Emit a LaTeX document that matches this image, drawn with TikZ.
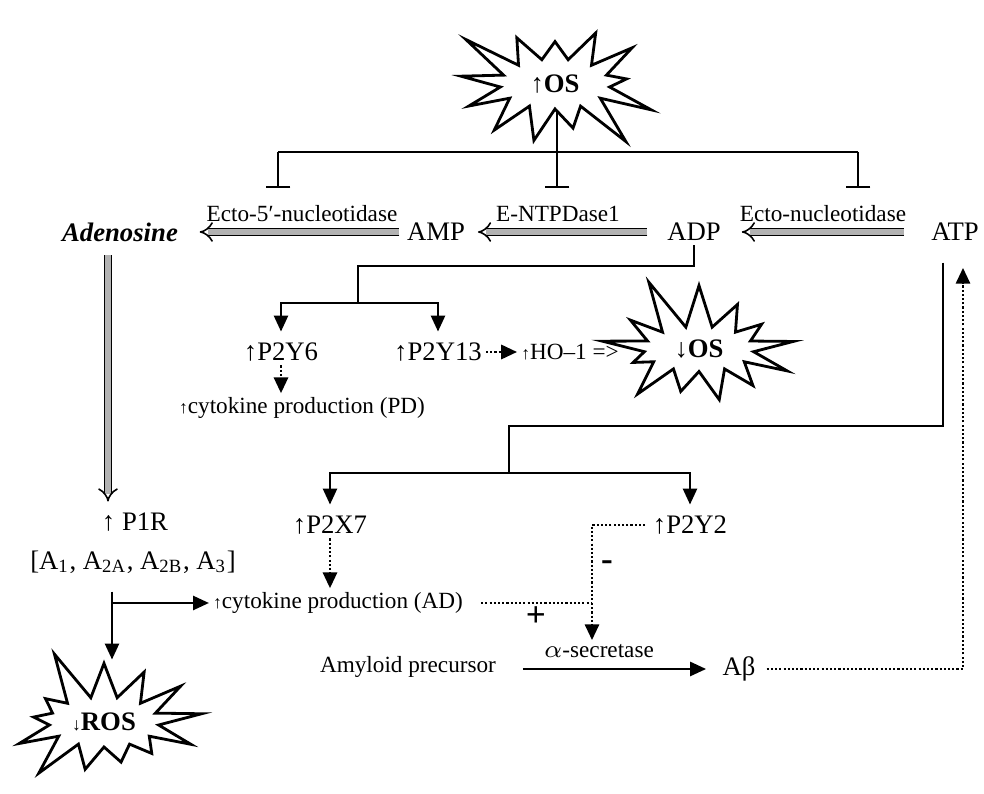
\documentclass[tikz,border=0pt]{standalone}
\usepackage{fontspec}
\setmainfont{Liberation Serif}
\usetikzlibrary{arrows.meta,shapes.symbols,backgrounds}
\newcommand{\bigtxt}{\fontsize{7.6}{9}\selectfont}
\newcommand{\smalltxt}{\fontsize{6.6}{8}\selectfont}
\newcommand{\tinyup}{{\fontsize{5}{6}\selectfont ↑}}
\newcommand{\tinydown}{{\fontsize{5}{6}\selectfont ↓}}

\begin{document}
\begin{tikzpicture}[
  lbl/.style={font=\bigtxt, inner sep=1pt},
  enz/.style={font=\smalltxt, inner sep=1pt},
  burst/.style={starburst, draw, fill=white, line width=0.8pt, starburst points=13,
    starburst point height=0.55cm, inner sep=1pt, font=\bfseries\bigtxt},
  conv/.style={double=gray!60, double distance=1.5pt, line width=0.45pt, -{Implies}},
  link/.style={line width=0.6pt},
  act/.style={link, -{Triangle[length=4.5pt,width=4pt]}},
  dotline/.style={line width=0.8pt, dash pattern=on 0.6pt off 0.6pt},
  dotact/.style={dotline, -{Triangle[length=4.5pt,width=4pt]}},
  inhib/.style={link, -{Bar[width=7pt]}}
]
\useasboundingbox (0,0) rectangle (9.84,7.94);

\node[burst, random starburst=3, minimum width=2.2cm, minimum height=1.6cm] (os) at (5.55,7.10) {↑OS};

\node[lbl, font=\bfseries\itshape\bigtxt] (aden) at (1.20,5.62) {Adenosine};
\node[lbl] (amp) at (4.36,5.62) {AMP};
\node[lbl] (adp) at (6.94,5.62) {ADP};
\node[lbl] (atp) at (9.55,5.62) {ATP};
\node[enz] (ecto5) at (3.02,5.80) {Ecto-5′-nucleotidase};
\node[enz] (entpd) at (5.58,5.80) {E-NTPDase1};
\node[enz] (ecto) at (8.23,5.80) {Ecto-nucleotidase};

\coordinate (barL) at (2.78,6.42);
\coordinate (barR) at (8.58,6.42);
\coordinate (teeL) at (2.78,6.06);
\coordinate (teeM) at (5.57,6.06);
\coordinate (teeR) at (8.58,6.06);
\begin{scope}[on background layer]
\draw[link] (barL) -- (barR);
\draw[inhib] (os.center -| teeM) -- (teeM);
\end{scope}
\draw[inhib] (barL) -- (teeL);
\draw[inhib] (barR) -- (teeR);

\draw[conv, shorten <=1pt, shorten >=5pt] (amp.west) -- (aden.east);
\draw[conv, shorten <=4.5pt, shorten >=2.5pt] (adp.west) -- (amp.east);
\draw[conv, shorten <=6.5pt, shorten >=4.8pt] (atp.west) -- (adp.east);

\node[lbl] (p2y6) at (2.81,4.42) {↑P2Y6};
\node[lbl] (p2y13) at (4.38,4.42) {↑P2Y13};
\node[enz] (ho) at (5.70,4.42) {\tinyup HO–1 =>};
\node[burst, random starburst=11, minimum width=2.2cm, minimum height=1.55cm] (os2) at (6.99,4.45) {↓OS};
\node[enz] (cytpd) at (3.02,3.86) {\tinyup cytokine production (PD)};

\coordinate (adpknee) at (3.58,5.28);
\coordinate (adpfork) at (3.58,4.91);
\draw[link] (adp.south) |- (adpknee) -- (adpfork);
\draw[act, shorten >=2pt] (adpfork) -| (p2y6.north);
\draw[act, shorten >=2pt] (adpfork) -| (p2y13.north);
\draw[dotact] (p2y6.south) -- (p2y6.south |- cytpd.north);
\draw[dotact] (p2y13.east) -- (ho.west);

\node[lbl] (p1r) at (1.35,2.72) {↑ P1R};
\node[lbl] (p1rsub) at (1.33,2.32) {[A\textsubscript{1}, A\textsubscript{2A}, A\textsubscript{2B}, A\textsubscript{3}]};
\node[burst, random starburst=5, minimum width=2.2cm, minimum height=1.6cm, font=\bfseries\bigtxt] (ros) at (1.04,0.72) {\tinydown ROS};

\draw[conv, shorten <=2.8pt, shorten >=2pt] ([xshift=-0.12cm]aden.south) -- ([xshift=-0.12cm]aden.south |- p1r.north);

\node[lbl] (p2x7) at (3.30,2.69) {↑P2X7};
\node[lbl] (p2y2) at (6.90,2.69) {↑P2Y2};
\node[enz] (cytad) at (3.38,1.91) {\tinyup cytokine production (AD)};

\coordinate (atpknee) at (5.09,3.68);
\coordinate (atpfork) at (5.09,3.21);
\draw[link, shorten <=5pt] ([xshift=-0.12cm]atp.south) |- (atpknee) -- (atpfork);
\draw[act, shorten >=2pt] (atpfork) -| (p2x7.north);
\draw[act, shorten >=2pt] (atpfork) -| (p2y2.north);
\draw[dotact] (p2x7.south) -- (p2x7.south |- cytad.north);

\coordinate (p1rfork) at (1.12,1.91);
\draw[act, shorten <=4pt] (p1rsub.south -| p1rfork) -- (ros.north -| p1rfork);
\draw[act] (p1rfork) -- (cytad.west);

\node[enz] (alpha) at (5.99,1.43) {$\alpha$-secretase};
\node[enz] (app) at (4.08,1.27) {Amyloid precursor};
\node[lbl] (ab) at (7.39,1.25) {Aβ};
\node[font=\bfseries\fontsize{10}{10}\selectfont] (minus) at (6.07,2.28) {-};
\node[font=\bfseries\fontsize{10}{10}\selectfont] (plus) at (5.36,1.77) {+};

\coordinate (secknee) at (5.92,2.69);
\coordinate (secjoin) at (5.92,1.91);
\draw[dotline, shorten <=1pt] (p2y2.west) -- (secknee) -- (secjoin);
\draw[dotline, shorten <=4pt] (cytad.east) -- (secjoin);
\draw[dotact] (secjoin) -- (secjoin |- alpha.north);
\draw[act, shorten <=6.5pt, shorten >=3.5pt] (app.east |- ab.west) -- (ab.west);

\coordinate (abcorner) at (9.63,1.25);
\draw[dotact, shorten <=2pt, shorten >=6.5pt] (ab.east) -- (abcorner) -- (abcorner |- atp.south);
\end{tikzpicture}
\end{document}
